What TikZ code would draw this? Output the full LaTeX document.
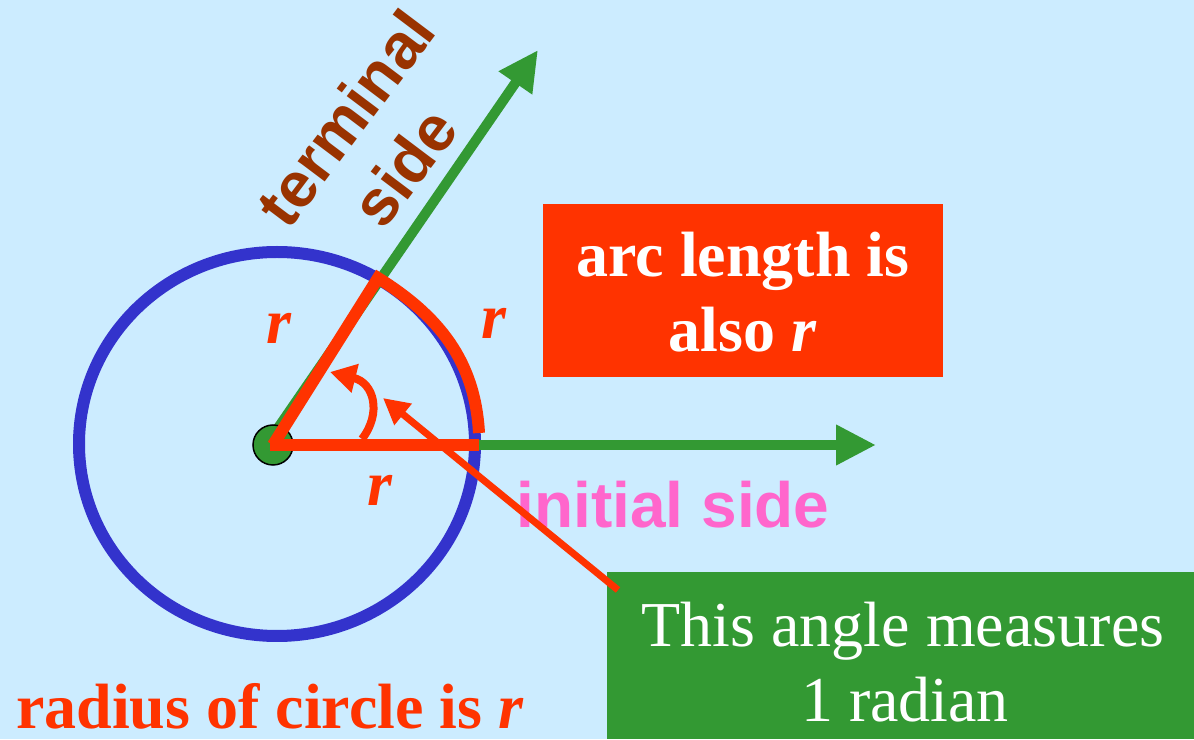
\documentclass[tikz,border=0pt]{standalone}
\usepackage{fontspec}
\setmainfont{Liberation Serif}
\newfontfamily\arialbf[BoldFont={Liberation Sans Bold}]{Liberation Sans}
\usetikzlibrary{arrows.meta}
\definecolor{bg}{HTML}{CCECFF}
\definecolor{myred}{HTML}{FF3300}
\definecolor{mygreen}{HTML}{339933}
\definecolor{myblue}{HTML}{3333CC}
\definecolor{mypink}{HTML}{FF66CC}
\definecolor{mybrown}{HTML}{993300}
\begin{document}
\begin{tikzpicture}[x=1pt,y=1pt,
  serifbig/.style={font=\fontsize{64}{72}\selectfont\bfseries, inner sep=0, anchor=base},
  sansbig/.style={font=\arialbf\fontsize{64}{72}\selectfont\bfseries, inner sep=0},
  rlabel/.style={font=\fontsize{64}{72}\selectfont\bfseries\itshape, text=myred, inner sep=0, anchor=base},
  greenside/.style={draw=mygreen, line width=10pt, -{Triangle[length=40pt,width=38pt]}},
  redside/.style={draw=myred, line width=12pt},
  pointer/.style={draw=myred, line width=7pt, -{Triangle[length=26pt,width=26pt]}},
  box/.style={inner sep=0, anchor=south west}
]
\fill[bg] (0,0) rectangle (1194,739);
\useasboundingbox (0,0) rectangle (1194,739);

% key points
\coordinate (C) at (273,294);
\coordinate (E) at (277,295);
\coordinate (G0) at (269,298);
\coordinate (Itip) at (876,294);
\coordinate (Ttip) at (538,689);
\coordinate (K) at (378,461);
\coordinate (A) at (479,306);
\coordinate (Hend) at (479,294);
\coordinate (s1) at (362,300);
\coordinate (s2) at (330,367);
\coordinate (P) at (618,149);
\coordinate (Ptip) at (383,341);

% circle
\draw[myblue, line width=12pt] (E) ellipse [x radius=198, y radius=192];

% sides
\draw[greenside] (C) -- (Itip);
\draw[greenside] (G0) -- (Ttip);

% vertex dot
\node[circle, fill=mygreen, draw=black, line width=1.5pt, minimum size=40pt, inner sep=0] (dot) at (C) {};

% red radii and arc
\draw[redside, line join=miter] (C) -- (K) .. controls (439,423) and (475,378) .. (A);
\draw[redside] ([xshift=-3pt]C) -- (Hend);

% angle arrow
\draw[draw=myred, line width=8pt, -{Triangle[length=26pt,width=28pt]}] (s1) .. controls (382,326) and (374,356) .. (s2);

% r labels
\node[rlabel] (r1) at (279,395) {r};
\node[rlabel] (r2) at (494,400) {r};
\node[rlabel] (r3) at (380,233) {r};

% side labels
\node[sansbig, text=mypink, anchor=base] (init) at (673,211) {initial side};
\node[sansbig, text=mybrown, rotate=53] (term) at (345,621) {terminal};
\node[sansbig, text=mybrown, rotate=53] (side) at (404,572) {side};

% red box
\node[box, fill=myred, minimum width=400pt, minimum height=173pt] (redbox) at (543,362) {};
\node[serifbig, text=white] (arc1) at (743,462) {arc length is};
\node[serifbig, text=white] (arc2) at (743,387) {also \textit{r}};

% green box
\node[box, fill=mygreen, minimum width=587pt, minimum height=167pt] (gbox) at (607,0) {};
\node[font=\fontsize{64}{72}\selectfont, text=white, inner sep=0, anchor=base] (g1) at (903,92) {This angle measures};
\node[font=\fontsize{64}{72}\selectfont, text=white, inner sep=0, anchor=base] (g2) at (905,17) {1 radian};

% bottom label
\node[serifbig, text=myred, anchor=base west] (rad) at (16,11) {radius of circle is \textit{r}};

% pointer
\draw[pointer] (P) -- (Ptip);
\end{tikzpicture}
\end{document}
